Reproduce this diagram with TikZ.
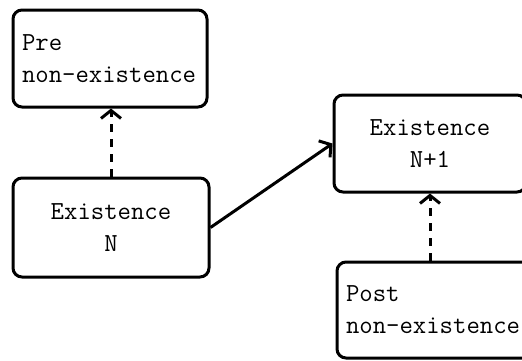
\documentclass[tikz,border=0pt]{standalone}
\usetikzlibrary{arrows.meta}
\tikzset{
  stage/.style={draw, line width=3pt, rounded corners=9pt, inner xsep=8pt,
    font=\fontsize{26}{32}\selectfont\ttfamily, text width=176pt},
  link/.style={line width=3pt, -{Straight Barb[length=8pt,width=20pt]}},
  weak/.style={link, dash pattern=on 8pt off 7pt}
}

\begin{document}
\begin{tikzpicture}[x=1pt, y=-1pt]
  \useasboundingbox (0,0) rectangle (522,360);
  % left column: generation N and what was before it
  \node[stage, align=left, minimum width=194pt, minimum height=97pt] (pre) at (110,58.5) {Pre\\non-existence};
  \node[stage, align=center, minimum width=196pt, minimum height=99pt] (exN) at (111,227.5) {Existence\\N};
  % right column: generation N+1 and what comes after it
  \node[stage, align=center, minimum width=186pt, minimum height=97pt] (exNp) at (430,143.5) {Existence\\N+1};
  \node[stage, align=left, text width=182pt, minimum width=200pt, minimum height=96pt] (post) at (437,310) {Post\\non-existence};
  % links
  \draw[weak] (exNp.south |- post.north) -- (exNp.south);
  \draw[weak] (exN.north) -- (exN.north |- pre.south);
  \draw[link] (exN.east) -- (exNp.west);
\end{tikzpicture}
\end{document}
